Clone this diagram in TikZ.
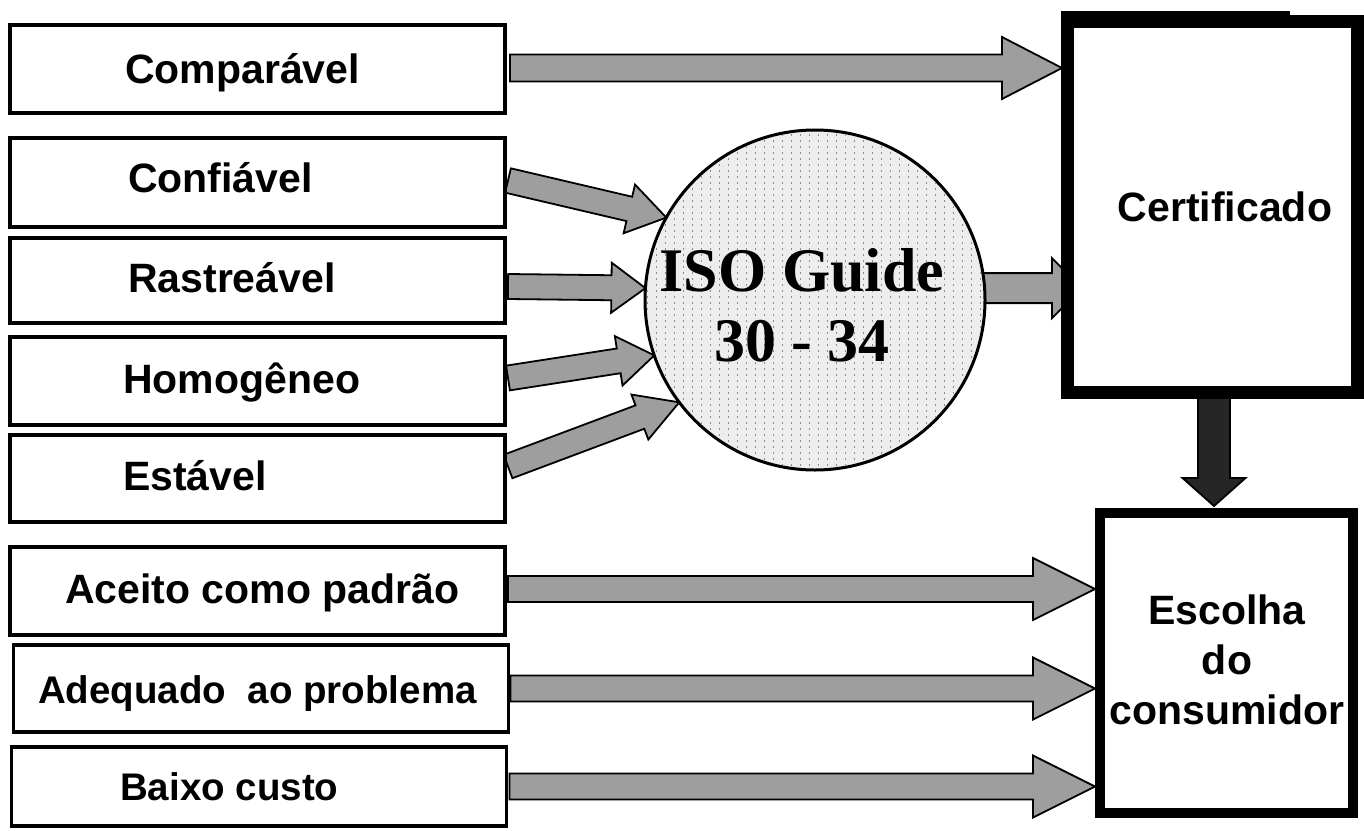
\documentclass[tikz,border=0pt]{standalone}
\usepackage{fontspec}
\setmainfont{Liberation Sans}
\newfontfamily\isofont{Liberation Serif}
\usetikzlibrary{calc,backgrounds}

\tikzset{
  box/.style={draw=black, line width=3.5pt, fill=white, minimum width=495pt,
    minimum height=88pt, inner sep=0pt, outer sep=0pt},
  lbl/.style={inner sep=0pt, anchor=base west, font=\fontsize{41}{48}\selectfont\bfseries},
  lblsmall/.style={lbl, font=\fontsize{38.5}{46}\selectfont\bfseries},
  bigbox/.style={draw=black, fill=white, inner sep=0pt, outer sep=0pt},
  garrow/.style={draw=black, line width=1.8pt, fill=black!38, line join=miter},
  darrow/.style={draw=black, line width=1.8pt, fill=black!85, line join=miter},
}

% #1 style, #2 start, #3 tip, #4 shaft half width, #5 head half width, #6 head length
\newcommand\blockarr[6]{%
  \path[#1] let \p1=#2, \p2=#3, \n1={atan2(\y2-\y1,\x2-\x1)},
    \n2={veclen(\x2-\x1,\y2-\y1)} in
    [shift={(\p1)}, rotate=\n1]
    (0,-#4) -- ({\n2-#6},-#4) -- ({\n2-#6},-#5) -- ({\n2},0) --
    ({\n2-#6},#5) -- ({\n2-#6},#4) -- (0,#4) -- cycle;}

\begin{document}
\begin{tikzpicture}[x=1pt, y=-1pt]
\useasboundingbox (0,0) rectangle (1364,830);

% left boxes
\node[box] (comp) at (257.5,69) {};
\node[box, minimum height=89pt] (conf) at (257.5,182.5) {};
\node[box, minimum height=85pt] (rast) at (257.5,280.5) {};
\node[box] (homo) at (257.5,381) {};
\node[box, minimum height=87pt] (est) at (257.5,478.5) {};
\node[box] (acei) at (257.5,591) {};
\node[box, minimum height=87pt] (adeq) at (261,688.5) {};
\node[box, minimum height=79pt] (baix) at (259,786.5) {};

\node[lbl] (tcomp) at (125,83) {Comparável};
\node[lbl] (tconf) at (128,192) {Confiável};
\node[lbl] (trast) at (128,292) {Rastreável};
\node[lbl] (thomo) at (123,393) {Homogêneo};
\node[lbl] (test) at (123,490) {Estável};
\node[lbl] (tacei) at (65,603) {Aceito como padrão};
\node[lblsmall] (tadeq) at (38,703) {Adequado\ \ ao problema};
\node[lblsmall] (tbaix) at (120,800) {Baixo custo};

% ISO circle
\node[circle, draw=black, line width=3pt, fill=black!7, minimum size=340pt,
  inner sep=0pt, outer sep=0pt] (iso) at (815,300) {};
\begin{scope}
  \clip (iso.center) circle[radius=168pt];
  \foreach \i in {0,...,37}
    \draw[black!45, line width=1pt, dash pattern=on 2pt off 4pt]
      ({647+\i*9},128) -- ++(0,344);
\end{scope}
\node[font=\isofont\bfseries\fontsize{62}{70}\selectfont, align=center, inner sep=0pt]
  (tiso) at (802,305) {ISO Guide\\30 - 34};

% right boxes
\fill[black] (1061,11) rectangle (1290,21);
\node[bigbox, line width=13pt, minimum width=290pt, minimum height=371pt] (cert) at (1212,206.5) {};
\node[font=\fontsize{41}{48}\selectfont\bfseries, inner sep=0pt] (tcert) at (1225,207) {Certificado};

\node[bigbox, line width=10pt, minimum width=253pt, minimum height=300pt] (esc) at (1226.5,663) {};
\node[font=\fontsize{41}{50}\selectfont\bfseries, align=center, inner sep=0pt] (tesc) at (1227,660)
  {Escolha\\do\\consumidor};

% arrows
\begin{scope}[on background layer]
  \fill[white] (0,0) rectangle (1364,830);
  \blockarr{garrow}{($(comp.east)+(5,-1)$)}{($(cert.west |- comp.east)+(-5,-1)$)}{13.5}{31}{60}
  \blockarr{garrow}{($(conf.east)+(3,-2)$)}{(iso.151)}{12.5}{25}{38}
  \blockarr{garrow}{($(rast.east)+(3,6)$)}{(iso.176)}{12.5}{25}{34}
  \blockarr{garrow}{($(homo.east)+(3,-3)$)}{(iso.199)}{12.5}{25}{36}
  \blockarr{garrow}{($(est.east)+(3,-12)$)}{(iso.217)}{12.5}{24}{42}
  \blockarr{garrow}{($(iso.4)+(-5,0)$)}{($(cert.west |- iso.4)+(15,0)$)}{15}{30}{30}
  \blockarr{garrow}{($(acei.east)+(3,-2)$)}{($(esc.west |- acei.east)+(-5,-2)$)}{13}{31}{62}
  \blockarr{garrow}{($(adeq.east)+(2,0)$)}{($(esc.west |- adeq.east)+(-5,0)$)}{13}{31}{62}
  \blockarr{garrow}{($(baix.east)+(3,0)$)}{($(esc.west |- baix.east)+(-5,0)$)}{13}{31}{62}
  \blockarr{darrow}{($(cert.south)+(2,0)$)}{($(cert.south |- esc.north)+(2,-7)$)}{16}{31.5}{28}
\end{scope}
\end{tikzpicture}
\end{document}
